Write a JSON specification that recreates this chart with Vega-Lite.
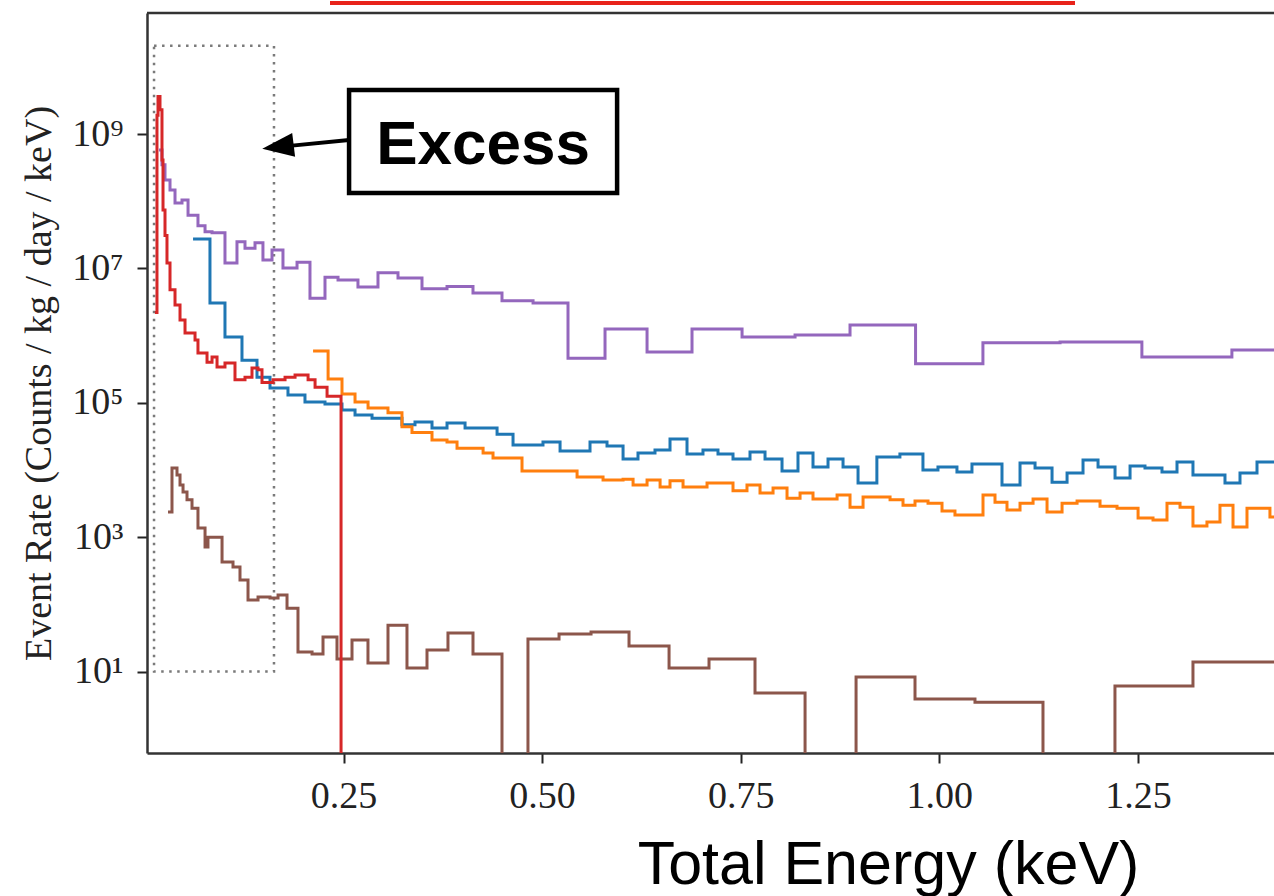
{
  "$schema": "https://vega.github.io/schema/vega-lite/v6.json",
  "width": 1127,
  "height": 740,
  "autosize": {"type": "none"},
  "padding": {"left": 147, "top": 13, "right": 0, "bottom": 143},
  "background": "white",
  "config": {"view": {"stroke": null}},
  "datasets": {
    "spectra": [
      {"series": "purple", "energy": 0.0178, "rate": 5.8e8},
      {"series": "purple", "energy": 0.0215, "rate": 3.5e8},
      {"series": "purple", "energy": 0.0253, "rate": 2.07e8},
      {"series": "purple", "energy": 0.0316, "rate": 1.47e8},
      {"series": "purple", "energy": 0.0379, "rate": 9.4e7},
      {"series": "purple", "energy": 0.0467, "rate": 1.04e8},
      {"series": "purple", "energy": 0.0543, "rate": 6.2e7},
      {"series": "purple", "energy": 0.0668, "rate": 4.3e7},
      {"series": "purple", "energy": 0.0757, "rate": 3.5e7},
      {"series": "purple", "energy": 0.0845, "rate": 3.4e7},
      {"series": "purple", "energy": 0.1008, "rate": 1.2e7},
      {"series": "purple", "energy": 0.1159, "rate": 2.5e7},
      {"series": "purple", "energy": 0.126, "rate": 2.0e7},
      {"series": "purple", "energy": 0.1386, "rate": 2.4e7},
      {"series": "purple", "energy": 0.1486, "rate": 1.33e7},
      {"series": "purple", "energy": 0.16, "rate": 1.88e7},
      {"series": "purple", "energy": 0.1738, "rate": 1.01e7},
      {"series": "purple", "energy": 0.1915, "rate": 1.24e7},
      {"series": "purple", "energy": 0.2078, "rate": 3.6e6},
      {"series": "purple", "energy": 0.2267, "rate": 7.4e6},
      {"series": "purple", "energy": 0.2431, "rate": 6.7e6},
      {"series": "purple", "energy": 0.2682, "rate": 5.3e6},
      {"series": "purple", "energy": 0.2934, "rate": 8.6e6},
      {"series": "purple", "energy": 0.3186, "rate": 7.2e6},
      {"series": "purple", "energy": 0.3488, "rate": 5.0e6},
      {"series": "purple", "energy": 0.3803, "rate": 5.4e6},
      {"series": "purple", "energy": 0.413, "rate": 4.3e6},
      {"series": "purple", "energy": 0.4495, "rate": 3.3e6},
      {"series": "purple", "energy": 0.4886, "rate": 3.05e6},
      {"series": "purple", "energy": 0.5326, "rate": 4.6e5},
      {"series": "purple", "energy": 0.5792, "rate": 1.25e6},
      {"series": "purple", "energy": 0.6321, "rate": 5.7e5},
      {"series": "purple", "energy": 0.6887, "rate": 1.25e6},
      {"series": "purple", "energy": 0.7517, "rate": 9.5e5},
      {"series": "purple", "energy": 0.8184, "rate": 1.02e6},
      {"series": "purple", "energy": 0.8876, "rate": 1.44e6},
      {"series": "purple", "energy": 0.9701, "rate": 3.8e5},
      {"series": "purple", "energy": 1.0549, "rate": 7.8e5},
      {"series": "purple", "energy": 1.152, "rate": 8.0e5},
      {"series": "purple", "energy": 1.255, "rate": 4.8e5},
      {"series": "purple", "energy": 1.3683, "rate": 6.1e5},
      {"series": "purple", "energy": 1.454, "rate": 6.1e5},

      {"series": "blue", "energy": 0.0606, "rate": 2.74e7},
      {"series": "blue", "energy": 0.0819, "rate": 3.05e6},
      {"series": "blue", "energy": 0.1008, "rate": 9.5e5},
      {"series": "blue", "energy": 0.1222, "rate": 4.3e5},
      {"series": "blue", "energy": 0.1411, "rate": 2.4e5},
      {"series": "blue", "energy": 0.1575, "rate": 1.66e5},
      {"series": "blue", "energy": 0.1801, "rate": 1.31e5},
      {"series": "blue", "energy": 0.2015, "rate": 1.03e5},
      {"series": "blue", "energy": 0.2267, "rate": 9.6e4},
      {"series": "blue", "energy": 0.2481, "rate": 7.8e4},
      {"series": "blue", "energy": 0.2645, "rate": 6.6e4},
      {"series": "blue", "energy": 0.2859, "rate": 5.9e4},
      {"series": "blue", "energy": 0.3236, "rate": 4.7e4},
      {"series": "blue", "energy": 0.34, "rate": 5.2e4},
      {"series": "blue", "energy": 0.3614, "rate": 4.2e4},
      {"series": "blue", "energy": 0.3803, "rate": 5.0e4},
      {"series": "blue", "energy": 0.403, "rate": 4.2e4},
      {"series": "blue", "energy": 0.4433, "rate": 3.4e4},
      {"series": "blue", "energy": 0.4634, "rate": 2.36e4},
      {"series": "blue", "energy": 0.5011, "rate": 2.6e4},
      {"series": "blue", "energy": 0.5226, "rate": 1.92e4},
      {"series": "blue", "energy": 0.5603, "rate": 2.6e4},
      {"series": "blue", "energy": 0.5817, "rate": 2.28e4},
      {"series": "blue", "energy": 0.6019, "rate": 1.46e4},
      {"series": "blue", "energy": 0.6207, "rate": 1.79e4},
      {"series": "blue", "energy": 0.6421, "rate": 1.99e4},
      {"series": "blue", "energy": 0.661, "rate": 2.9e4},
      {"series": "blue", "energy": 0.6824, "rate": 1.73e4},
      {"series": "blue", "energy": 0.7025, "rate": 1.99e4},
      {"series": "blue", "energy": 0.7214, "rate": 1.73e4},
      {"series": "blue", "energy": 0.7403, "rate": 1.46e4},
      {"series": "blue", "energy": 0.7617, "rate": 1.85e4},
      {"series": "blue", "energy": 0.7806, "rate": 1.46e4},
      {"series": "blue", "energy": 0.802, "rate": 9.7e3},
      {"series": "blue", "energy": 0.8221, "rate": 1.79e4},
      {"series": "blue", "energy": 0.841, "rate": 1.11e4},
      {"series": "blue", "energy": 0.8599, "rate": 1.46e4},
      {"series": "blue", "energy": 0.8788, "rate": 1.11e4},
      {"series": "blue", "energy": 0.8977, "rate": 6.4e3},
      {"series": "blue", "energy": 0.9214, "rate": 1.56e4},
      {"series": "blue", "energy": 0.9504, "rate": 1.73e4},
      {"series": "blue", "energy": 0.9794, "rate": 1.0e4},
      {"series": "blue", "energy": 0.9983, "rate": 1.11e4},
      {"series": "blue", "energy": 1.0222, "rate": 9.3e3},
      {"series": "blue", "energy": 1.0411, "rate": 1.23e4},
      {"series": "blue", "energy": 1.0789, "rate": 6.0e3},
      {"series": "blue", "energy": 1.1016, "rate": 1.27e4},
      {"series": "blue", "energy": 1.1205, "rate": 1.07e4},
      {"series": "blue", "energy": 1.1419, "rate": 6.6e3},
      {"series": "blue", "energy": 1.1608, "rate": 9.0e3},
      {"series": "blue", "energy": 1.1809, "rate": 1.41e4},
      {"series": "blue", "energy": 1.1998, "rate": 1.11e4},
      {"series": "blue", "energy": 1.2212, "rate": 7.6e3},
      {"series": "blue", "energy": 1.2401, "rate": 1.15e4},
      {"series": "blue", "energy": 1.2589, "rate": 1.07e4},
      {"series": "blue", "energy": 1.2803, "rate": 9.3e3},
      {"series": "blue", "energy": 1.2992, "rate": 1.31e4},
      {"series": "blue", "energy": 1.3193, "rate": 8.4e3},
      {"series": "blue", "energy": 1.3596, "rate": 6.4e3},
      {"series": "blue", "energy": 1.3785, "rate": 9.0e3},
      {"series": "blue", "energy": 1.3999, "rate": 1.31e4},
      {"series": "blue", "energy": 1.4415, "rate": 1.31e4},

      {"series": "orange", "energy": 0.2117, "rate": 5.9e5},
      {"series": "orange", "energy": 0.2306, "rate": 2.26e5},
      {"series": "orange", "energy": 0.2481, "rate": 1.35e5},
      {"series": "orange", "energy": 0.2645, "rate": 1.03e5},
      {"series": "orange", "energy": 0.2809, "rate": 8.4e4},
      {"series": "orange", "energy": 0.306, "rate": 7.1e4},
      {"series": "orange", "energy": 0.3236, "rate": 4.4e4},
      {"series": "orange", "energy": 0.3362, "rate": 3.6e4},
      {"series": "orange", "energy": 0.3614, "rate": 2.8e4},
      {"series": "orange", "energy": 0.3803, "rate": 2.6e4},
      {"series": "orange", "energy": 0.3929, "rate": 2.1e4},
      {"series": "orange", "energy": 0.4257, "rate": 1.79e4},
      {"series": "orange", "energy": 0.4382, "rate": 1.51e4},
      {"series": "orange", "energy": 0.4747, "rate": 9.7e3},
      {"series": "orange", "energy": 0.544, "rate": 7.9e3},
      {"series": "orange", "energy": 0.5767, "rate": 7.1e3},
      {"series": "orange", "energy": 0.6019, "rate": 7.3e3},
      {"series": "orange", "energy": 0.6145, "rate": 6.0e3},
      {"series": "orange", "energy": 0.6321, "rate": 7.1e3},
      {"series": "orange", "energy": 0.6485, "rate": 5.6e3},
      {"series": "orange", "energy": 0.661, "rate": 6.9e3},
      {"series": "orange", "energy": 0.6774, "rate": 5.6e3},
      {"series": "orange", "energy": 0.7076, "rate": 6.4e3},
      {"series": "orange", "energy": 0.7403, "rate": 4.9e3},
      {"series": "orange", "energy": 0.7579, "rate": 6.0e3},
      {"series": "orange", "energy": 0.7743, "rate": 4.55e3},
      {"series": "orange", "energy": 0.7907, "rate": 5.4e3},
      {"series": "orange", "energy": 0.8083, "rate": 3.8e3},
      {"series": "orange", "energy": 0.8247, "rate": 4.55e3},
      {"series": "orange", "energy": 0.841, "rate": 3.7e3},
      {"series": "orange", "energy": 0.8713, "rate": 4.25e3},
      {"series": "orange", "energy": 0.8876, "rate": 2.8e3},
      {"series": "orange", "energy": 0.904, "rate": 3.96e3},
      {"series": "orange", "energy": 0.938, "rate": 3.6e3},
      {"series": "orange", "energy": 0.9543, "rate": 3.0e3},
      {"series": "orange", "energy": 0.9694, "rate": 3.46e3},
      {"series": "orange", "energy": 0.9858, "rate": 3.2e3},
      {"series": "orange", "energy": 1.0034, "rate": 2.45e3},
      {"series": "orange", "energy": 1.0197, "rate": 2.14e3},
      {"series": "orange", "energy": 1.055, "rate": 4.25e3},
      {"series": "orange", "energy": 1.0701, "rate": 3.3e3},
      {"series": "orange", "energy": 1.0852, "rate": 2.54e3},
      {"series": "orange", "energy": 1.1016, "rate": 3.2e3},
      {"series": "orange", "energy": 1.118, "rate": 3.7e3},
      {"series": "orange", "energy": 1.1356, "rate": 2.37e3},
      {"series": "orange", "energy": 1.1545, "rate": 3.2e3},
      {"series": "orange", "energy": 1.1734, "rate": 3.46e3},
      {"series": "orange", "energy": 1.2023, "rate": 2.9e3},
      {"series": "orange", "energy": 1.2237, "rate": 2.7e3},
      {"series": "orange", "energy": 1.2502, "rate": 1.93e3},
      {"series": "orange", "energy": 1.269, "rate": 1.8e3},
      {"series": "orange", "energy": 1.2866, "rate": 3.2e3},
      {"series": "orange", "energy": 1.303, "rate": 2.8e3},
      {"series": "orange", "energy": 1.3193, "rate": 1.47e3},
      {"series": "orange", "energy": 1.3369, "rate": 1.68e3},
      {"series": "orange", "energy": 1.3533, "rate": 3.0e3},
      {"series": "orange", "energy": 1.3697, "rate": 1.42e3},
      {"series": "orange", "energy": 1.3873, "rate": 2.7e3},
      {"series": "orange", "energy": 1.4162, "rate": 2.0e3},
      {"series": "orange", "energy": 1.4415, "rate": 2.0e3},

      {"series": "brown", "energy": 0.0291, "rate": 2.37e3},
      {"series": "brown", "energy": 0.0341, "rate": 1.07e4},
      {"series": "brown", "energy": 0.0404, "rate": 8.4e3},
      {"series": "brown", "energy": 0.0442, "rate": 6.0e3},
      {"series": "brown", "energy": 0.048, "rate": 4.7e3},
      {"series": "brown", "energy": 0.053, "rate": 3.6e3},
      {"series": "brown", "energy": 0.0593, "rate": 2.7e3},
      {"series": "brown", "energy": 0.0668, "rate": 1.37e3},
      {"series": "brown", "energy": 0.0757, "rate": 715},
      {"series": "brown", "energy": 0.0794, "rate": 1.0e3},
      {"series": "brown", "energy": 0.0971, "rate": 428},
      {"series": "brown", "energy": 0.1109, "rate": 361},
      {"series": "brown", "energy": 0.1197, "rate": 231},
      {"series": "brown", "energy": 0.1298, "rate": 116},
      {"series": "brown", "energy": 0.1424, "rate": 129},
      {"series": "brown", "energy": 0.1575, "rate": 124},
      {"series": "brown", "energy": 0.1676, "rate": 138},
      {"series": "brown", "energy": 0.1789, "rate": 88},
      {"series": "brown", "energy": 0.1927, "rate": 19.6},
      {"series": "brown", "energy": 0.2104, "rate": 18.3},
      {"series": "brown", "energy": 0.2242, "rate": 32.7},
      {"series": "brown", "energy": 0.2418, "rate": 15.4},
      {"series": "brown", "energy": 0.2607, "rate": 29.5},
      {"series": "brown", "energy": 0.2808, "rate": 13.4},
      {"series": "brown", "energy": 0.306, "rate": 49},
      {"series": "brown", "energy": 0.3299, "rate": 11.3},
      {"series": "brown", "energy": 0.3551, "rate": 21},
      {"series": "brown", "energy": 0.3815, "rate": 37.5},
      {"series": "brown", "energy": 0.413, "rate": 18.3},
      {"series": "brown", "energy": 0.4495, "rate": 0.001},
      {"series": "brown", "energy": 0.4822, "rate": 30.5},
      {"series": "brown", "energy": 0.5213, "rate": 36.3},
      {"series": "brown", "energy": 0.5616, "rate": 38.8},
      {"series": "brown", "energy": 0.6094, "rate": 24},
      {"series": "brown", "energy": 0.6598, "rate": 11.3},
      {"series": "brown", "energy": 0.7101, "rate": 15.4},
      {"series": "brown", "energy": 0.768, "rate": 4.8},
      {"series": "brown", "energy": 0.831, "rate": 0.001},
      {"series": "brown", "energy": 0.8952, "rate": 8.3},
      {"series": "brown", "energy": 0.9694, "rate": 3.9},
      {"series": "brown", "energy": 1.0449, "rate": 3.5},
      {"series": "brown", "energy": 1.1305, "rate": 0.001},
      {"series": "brown", "energy": 1.2211, "rate": 6.1},
      {"series": "brown", "energy": 1.3193, "rate": 13.9},
      {"series": "brown", "energy": 1.4415, "rate": 13.9},

      {"series": "red", "energy": 0.0126, "rate": 2.2e6},
      {"series": "red", "energy": 0.0152, "rate": 1.9e9},
      {"series": "red", "energy": 0.0165, "rate": 3.6e9},
      {"series": "red", "energy": 0.019, "rate": 2.3e9},
      {"series": "red", "energy": 0.0215, "rate": 4.1e8},
      {"series": "red", "energy": 0.0228, "rate": 7.4e7},
      {"series": "red", "energy": 0.0253, "rate": 3.1e7},
      {"series": "red", "energy": 0.0278, "rate": 1.2e7},
      {"series": "red", "energy": 0.0316, "rate": 4.8e6},
      {"series": "red", "energy": 0.0379, "rate": 2.85e6},
      {"series": "red", "energy": 0.0442, "rate": 1.7e6},
      {"series": "red", "energy": 0.0505, "rate": 1.09e6},
      {"series": "red", "energy": 0.0631, "rate": 8.6e5},
      {"series": "red", "energy": 0.0668, "rate": 5.5e5},
      {"series": "red", "energy": 0.0782, "rate": 4.0e5},
      {"series": "red", "energy": 0.0845, "rate": 4.8e5},
      {"series": "red", "energy": 0.0908, "rate": 3.4e5},
      {"series": "red", "energy": 0.1008, "rate": 3.9e5},
      {"series": "red", "energy": 0.1134, "rate": 2.2e5},
      {"series": "red", "energy": 0.126, "rate": 2.4e5},
      {"series": "red", "energy": 0.1348, "rate": 3.3e5},
      {"series": "red", "energy": 0.1424, "rate": 3.1e5},
      {"series": "red", "energy": 0.1474, "rate": 2.0e5},
      {"series": "red", "energy": 0.1613, "rate": 2.2e5},
      {"series": "red", "energy": 0.1764, "rate": 2.4e5},
      {"series": "red", "energy": 0.189, "rate": 2.6e5},
      {"series": "red", "energy": 0.2054, "rate": 2.2e5},
      {"series": "red", "energy": 0.2142, "rate": 1.7e5},
      {"series": "red", "energy": 0.2293, "rate": 1.25e5},
      {"series": "red", "energy": 0.2469, "rate": 0.001}
    ],
    "excessRegion": [{"e0": 0.0115, "e1": 0.1625, "r0": 10, "r1": 2.05e10}],
    "excessLabel": [{"e0": 0.257, "e1": 0.5944, "r0": 1.32e8, "r1": 4.52e9, "eMid": 0.4257, "rMid": 6.86e8, "text": "Excess"}],
    "arrow": [{"eFrom": 0.257, "rFrom": 8.15e8, "eTo": 0.1789, "rTo": 6.6e8, "eHead": 0.1675, "rHead": 6.45e8}],
    "frameTop": [{"rate": 6.32e10}],
    "banner": [{"e0": 0.233, "e1": 1.1708, "rate": 8.9e10}]
  },
  "layer": [
    {
      "data": {"name": "excessRegion"},
      "mark": {"type": "rect", "fill": null, "fillOpacity": 0, "stroke": "#7a7a7a", "strokeWidth": 2.5, "strokeDash": [2.5, 5.5]},
      "encoding": {
        "x": {"field": "e0", "type": "quantitative", "scale": {"domain": [0.00264, 1.4213], "nice": false, "zero": false},
          "axis": {
            "values": [0.25, 0.5, 0.75, 1.0, 1.25], "format": ".2f", "grid": false,
            "labelFont": "Liberation Serif", "labelFontSize": 38, "labelColor": "#222", "labelPadding": 14, "labelFlush": false,
            "tickSize": 10, "tickWidth": 2, "tickColor": "#222",
            "domainColor": "#333", "domainWidth": 2.5,
            "title": "Total Energy (keV)", "titleFont": "Liberation Sans", "titleFontSize": 61, "titleFontWeight": "normal",
            "titleColor": "#000", "titleX": 741, "titleY": 130, "titleAlign": "center", "titleBaseline": "alphabetic"
          }},
        "x2": {"field": "e1"},
        "y": {"field": "r0", "type": "quantitative", "scale": {"type": "log", "domain": [0.6146, 6.32e10], "nice": false},
          "axis": {
            "values": [10, 1000, 100000, 10000000, 1000000000], "grid": false,
            "labelExpr": "'10' + ['⁰','¹','²','³','⁴','⁵','⁶','⁷','⁸','⁹'][round(log(datum.value) / LN10)]",
            "labelFont": "Liberation Serif", "labelFontSize": 38, "labelColor": "#222", "labelPadding": 14,
            "tickSize": 10, "tickWidth": 2, "tickColor": "#222",
            "domainColor": "#333", "domainWidth": 2.5,
            "title": "Event Rate (Counts / kg / day / keV)", "titleFont": "Liberation Serif", "titleFontSize": 38,
            "titleFontWeight": "normal", "titleColor": "#222", "titleAngle": -90, "titleX": -108, "titleY": 370,
            "titleAlign": "center", "titleBaseline": "middle"
          }},
        "y2": {"field": "r1"}
      }
    },
    {
      "data": {"name": "frameTop"},
      "mark": {"type": "rule", "color": "#333", "strokeWidth": 2.5},
      "encoding": {"y": {"field": "rate", "type": "quantitative"}}
    },
    {
      "data": {"name": "spectra"},
      "transform": [{"filter": "datum.series === 'purple'"}],
      "mark": {"type": "line", "interpolate": "step-after", "clip": true, "color": "#9467bd", "strokeWidth": 3},
      "encoding": {"x": {"field": "energy", "type": "quantitative"}, "y": {"field": "rate", "type": "quantitative"}}
    },
    {
      "data": {"name": "spectra"},
      "transform": [{"filter": "datum.series === 'blue'"}],
      "mark": {"type": "line", "interpolate": "step-after", "clip": true, "color": "#1f77b4", "strokeWidth": 3},
      "encoding": {"x": {"field": "energy", "type": "quantitative"}, "y": {"field": "rate", "type": "quantitative"}}
    },
    {
      "data": {"name": "spectra"},
      "transform": [{"filter": "datum.series === 'orange'"}],
      "mark": {"type": "line", "interpolate": "step-after", "clip": true, "color": "#ff7f0e", "strokeWidth": 3},
      "encoding": {"x": {"field": "energy", "type": "quantitative"}, "y": {"field": "rate", "type": "quantitative"}}
    },
    {
      "data": {"name": "spectra"},
      "transform": [{"filter": "datum.series === 'brown'"}],
      "mark": {"type": "line", "interpolate": "step-after", "clip": true, "color": "#8c564b", "strokeWidth": 3},
      "encoding": {"x": {"field": "energy", "type": "quantitative"}, "y": {"field": "rate", "type": "quantitative"}}
    },
    {
      "data": {"name": "spectra"},
      "transform": [{"filter": "datum.series === 'red'"}],
      "mark": {"type": "line", "interpolate": "step-after", "clip": true, "color": "#d62728", "strokeWidth": 3},
      "encoding": {"x": {"field": "energy", "type": "quantitative"}, "y": {"field": "rate", "type": "quantitative"}}
    },
    {
      "data": {"name": "arrow"},
      "mark": {"type": "rule", "color": "#000", "strokeWidth": 4},
      "encoding": {
        "x": {"field": "eFrom", "type": "quantitative"}, "x2": {"field": "eTo"},
        "y": {"field": "rFrom", "type": "quantitative"}, "y2": {"field": "rTo"}
      }
    },
    {
      "data": {"name": "arrow"},
      "mark": {"type": "point", "shape": "M-1,0L1,-0.75L1,0.75Z", "filled": true, "color": "#000", "opacity": 1, "size": 1000, "angle": -7},
      "encoding": {
        "x": {"field": "eHead", "type": "quantitative"},
        "y": {"field": "rHead", "type": "quantitative"}
      }
    },
    {
      "data": {"name": "excessLabel"},
      "mark": {"type": "rect", "fill": "#fff", "stroke": "#000", "strokeWidth": 4.5},
      "encoding": {
        "x": {"field": "e0", "type": "quantitative"}, "x2": {"field": "e1"},
        "y": {"field": "r0", "type": "quantitative"}, "y2": {"field": "r1"}
      }
    },
    {
      "data": {"name": "excessLabel"},
      "mark": {"type": "text", "font": "Liberation Sans", "fontWeight": "bold", "fontSize": 62, "color": "#000", "align": "center", "baseline": "middle"},
      "encoding": {
        "x": {"field": "eMid", "type": "quantitative"},
        "y": {"field": "rMid", "type": "quantitative"},
        "text": {"field": "text"}
      }
    },
    {
      "data": {"name": "banner"},
      "mark": {"type": "rule", "color": "#e8231a", "strokeWidth": 4},
      "encoding": {
        "x": {"field": "e0", "type": "quantitative"}, "x2": {"field": "e1"},
        "y": {"field": "rate", "type": "quantitative"}
      }
    }
  ]
}
